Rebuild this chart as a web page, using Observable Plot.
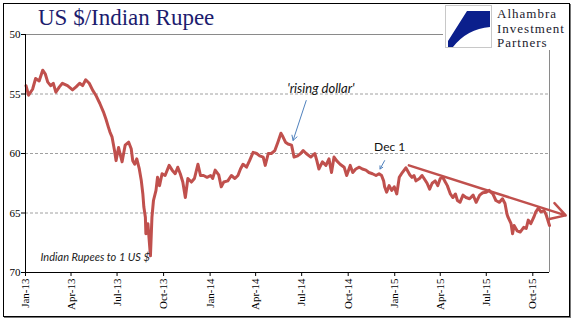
<!DOCTYPE html>
<html>
<head>
<meta charset="utf-8">
<script src="https://cdn.jsdelivr.net/npm/d3@7"></script>
<script src="https://cdn.jsdelivr.net/npm/@observablehq/plot@0.6"></script>
<style>
  html, body { margin: 0; padding: 0; background: #fff; overflow: hidden; }
  #wrap { position: relative; width: 577px; height: 321px; }
  #chart { position: absolute; left: 0; top: 0; }
  #frame { position: absolute; left: 3px; top: 3px; width: 565px; height: 312px; border: 1px solid #000; box-shadow: 1px 1px 0 #777; pointer-events: none; }
  #title { position: absolute; left: 38px; top: 5px; font-family: "Liberation Serif", "Times New Roman", serif; font-size: 23px; color: #1c1c6e; white-space: nowrap; }
  #logo { position: absolute; left: 443px; top: 4px; width: 126px; height: 46px; background: #fff; }
  #logo svg { position: absolute; left: 2px; top: 1px; }
  #logotext { position: absolute; left: 54px; top: 3.4px; font-family: "Liberation Serif", "Times New Roman", serif; font-size: 13px; letter-spacing: 1px; line-height: 14.5px; color: #1a1a2e; white-space: nowrap; }
</style>
</head>
<body>
<div id="wrap">
  <div id="chart"></div>
  <div id="title">US $/Indian Rupee</div>
  <div id="logo">
    <svg width="48" height="44" viewBox="0 0 48 44">
      <rect x="0.5" y="0.5" width="46" height="42" fill="#fff" stroke="#c8c8c8"/>
      <path d="M22,6 L45,6 L45,22 Q22,24 8,42 L3,42 L3,36 Z" fill="#0b1f8c"/>
    </svg>
    <div id="logotext">Alhambra<br>Investment<br>Partners</div>
  </div>
  <div id="frame"></div>
</div>
<script>
const dates = ["2013-01-02","2013-01-07","2013-01-15","2013-01-21","2013-01-28","2013-02-04","2013-02-09","2013-02-14","2013-02-20","2013-02-25","2013-03-02","2013-03-09","2013-03-15","2013-03-25","2013-04-04","2013-04-11","2013-04-18","2013-04-24","2013-04-30","2013-05-07","2013-05-14","2013-05-20","2013-05-28","2013-06-04","2013-06-09","2013-06-14","2013-06-17","2013-06-21","2013-06-26","2013-06-29","2013-07-04","2013-07-11","2013-07-17","2013-07-24","2013-07-29","2013-08-01","2013-08-05","2013-08-09","2013-08-14","2013-08-18","2013-08-21","2013-08-23","2013-08-26","2013-08-27","2013-08-31","2013-09-05","2013-09-08","2013-09-11","2013-09-16","2013-09-19","2013-09-23","2013-09-28","2013-10-04","2013-10-12","2013-10-18","2013-10-24","2013-10-29","2013-11-03","2013-11-08","2013-11-13","2013-11-18","2013-11-25","2013-12-01","2013-12-08","2013-12-13","2013-12-19","2013-12-26","2014-01-02","2014-01-06","2014-01-11","2014-01-18","2014-01-23","2014-01-28","2014-02-05","2014-02-12","2014-02-19","2014-02-25","2014-03-02","2014-03-07","2014-03-14","2014-03-20","2014-03-27","2014-04-03","2014-04-09","2014-04-16","2014-04-20","2014-04-26","2014-05-02","2014-05-09","2014-05-15","2014-05-21","2014-05-25","2014-05-30","2014-06-04","2014-06-11","2014-06-16","2014-06-23","2014-06-29","2014-07-04","2014-07-10","2014-07-19","2014-07-27","2014-07-31","2014-08-04","2014-08-11","2014-08-18","2014-08-24","2014-08-29","2014-09-03","2014-09-08","2014-09-15","2014-09-23","2014-09-28","2014-10-05","2014-10-10","2014-10-16","2014-10-23","2014-10-29","2014-11-05","2014-11-11","2014-11-18","2014-11-25","2014-12-01","2014-12-06","2014-12-10","2014-12-12","2014-12-16","2014-12-21","2014-12-26","2014-12-31","2015-01-05","2015-01-10","2015-01-16","2015-01-23","2015-01-31","2015-02-04","2015-02-08","2015-02-12","2015-02-19","2015-02-24","2015-02-28","2015-03-06","2015-03-11","2015-03-16","2015-03-22","2015-03-27","2015-04-01","2015-04-06","2015-04-11","2015-04-15","2015-04-21","2015-04-26","2015-05-01","2015-05-05","2015-05-10","2015-05-16","2015-05-22","2015-05-29","2015-06-05","2015-06-11","2015-06-18","2015-06-24","2015-07-01","2015-07-07","2015-07-10","2015-07-14","2015-07-20","2015-07-27","2015-08-02","2015-08-07","2015-08-11","2015-08-13","2015-08-19","2015-08-22","2015-08-25","2015-08-31","2015-09-06","2015-09-13","2015-09-18","2015-09-22","2015-09-27","2015-10-03","2015-10-07","2015-10-12","2015-10-17","2015-10-23","2015-10-27","2015-10-30","2015-11-03"];
const values = [54.3,55.1,54.6,53.7,53.9,53.0,53.3,54.0,54.3,54.1,54.85,54.4,54.1,54.3,54.65,54.4,54.1,54.3,53.8,54.1,54.7,55.1,55.8,56.5,57.1,57.8,58.2,58.6,59.75,60.6,59.5,60.7,59.3,59.05,59.6,60.6,60.9,60.45,61.3,62.3,63.4,64.5,65.35,66.75,65.9,68.6,65.35,63.95,63.1,62.0,62.7,61.7,61.85,61.0,61.4,61.7,61.15,61.7,62.4,63.7,62.1,62.4,62.1,60.9,61.85,61.85,62.0,61.85,62.1,61.4,61.8,62.8,62.4,62.3,61.85,62.1,61.85,61.3,60.9,61.15,60.6,59.9,60.0,60.2,60.3,61.0,60.0,60.0,59.75,59.05,58.3,58.6,59.05,59.2,59.3,60.3,60.2,60.0,59.75,60.0,60.3,60.0,60.6,61.3,60.7,61.0,60.45,61.6,60.3,60.6,60.9,61.15,61.85,61.0,61.6,61.3,61.15,61.3,61.4,61.6,61.7,61.85,61.7,61.85,62.3,62.8,63.25,62.7,63.1,62.8,63.4,62.0,61.6,61.2,61.8,62.0,61.85,62.3,62.1,61.85,62.1,62.5,63.0,62.5,62.3,62.7,62.1,62.0,62.4,62.7,63.4,63.7,63.4,63.95,64.1,63.5,63.7,63.8,63.5,64.1,63.5,63.3,63.25,63.1,63.25,63.4,63.95,64.1,63.8,64.2,65.1,65.35,65.9,66.75,66.05,66.5,66.6,66.2,66.3,65.6,65.9,65.35,64.9,64.6,64.9,64.8,65.1,65.5,66.05];

const xDomain = ["2013-01-01", "2015-11-03"];
const yTicks = [50, 55, 60, 65, 70];
const gridValues = [55, 60, 65];
const xTicks = ["2013-01-01","2013-04-01","2013-07-01","2013-10-01","2014-01-01","2014-04-01","2014-07-01","2014-10-01","2015-01-01","2015-04-01","2015-07-01","2015-10-01"];

// trend arrow (start, end)
const trendDates = ["2015-01-29", "2015-12-05"];
const trendValues = [61.0, 65.2];

// annotation arrows: tail -> tip
const noteArrowTailDates = ["2014-07-10", "2014-12-12"];
const noteArrowTailValues = [55.55, 60.6];
const noteArrowTipDates = ["2014-06-14", "2014-12-03"];
const noteArrowTipValues = [58.9, 61.3];

const noteTexts = ["'rising dollar'", "Dec 1"];
const noteDates = ["2014-08-08", "2014-12-22"];
const noteValues = [54.55, 59.5];
const unitNote = "Indian Rupees to 1 US $";

const D = s => new Date(s + "T00:00:00Z");
const series = dates.map((d, i) => ({date: D(d), value: values[i]}));
const trend = [{x1: D(trendDates[0]), y1: trendValues[0], x2: D(trendDates[1]), y2: trendValues[1]}];
const noteArrows = noteArrowTailDates.map((d, i) => ({x1: D(d), y1: noteArrowTailValues[i], x2: D(noteArrowTipDates[i]), y2: noteArrowTipValues[i]}));
const notes = noteTexts.map((t, i) => ({text: t, date: D(noteDates[i]), value: noteValues[i]}));

const red = "#c0504d";
const sans = "Lato, 'Open Sans', sans-serif";

const chart = Plot.plot({
  width: 577,
  height: 321,
  marginLeft: 25,
  marginRight: 28,
  marginTop: 34,
  marginBottom: 49,
  style: {fontFamily: "'Liberation Serif', 'Times New Roman', serif", fontSize: "11px", color: "#000", background: "transparent"},
  x: {type: "utc", domain: xDomain.map(D)},
  y: {domain: [50, 70], reverse: true},
  marks: [
    Plot.ruleY(gridValues, {stroke: "#a0a0a0", strokeDasharray: "3,2"}),
    Plot.ruleY([yTicks[0]], {stroke: "#8a8a8a"}),
    Plot.ruleX([D(xDomain[1])], {stroke: "#8a8a8a"}),
    Plot.axisY({ticks: yTicks, tickSize: 4, tickPadding: 1, label: null, tickFormat: d => String(d)}),
    Plot.axisX({ticks: xTicks.map(D), tickFormat: d3.utcFormat("%b-%y"), tickRotate: -90, tickSize: 4, tickPadding: 2, label: null}),
    Plot.line(series, {x: "date", y: "value", stroke: red, strokeWidth: 3}),
    Plot.ruleX([D(xDomain[0])], {stroke: "#000"}),
    Plot.ruleY([yTicks[yTicks.length - 1]], {stroke: "#000"}),
    Plot.arrow(trend, {x1: "x1", y1: "y1", x2: "x2", y2: "y2", stroke: red, strokeWidth: 2.5, headLength: 10}),
    Plot.arrow(noteArrows, {x1: "x1", y1: "y1", x2: "x2", y2: "y2", stroke: "#4f81bd", strokeWidth: 1, headLength: 8}),
    Plot.text(notes.slice(0, 1), {x: "date", y: "value", text: "text", fontFamily: sans, fontStyle: "italic", fontSize: 13, fill: "#111"}),
    Plot.text(notes.slice(1), {x: "date", y: "value", text: "text", fontFamily: sans, fontSize: 12, fill: "#111"}),
    Plot.text([unitNote], {frameAnchor: "bottom-left", dx: 15, dy: -12, textAnchor: "start", fontFamily: sans, fontStyle: "italic", fontSize: 11, fill: "#222"})
  ]
});
document.getElementById("chart").appendChild(chart);
</script>
</body>
</html>
